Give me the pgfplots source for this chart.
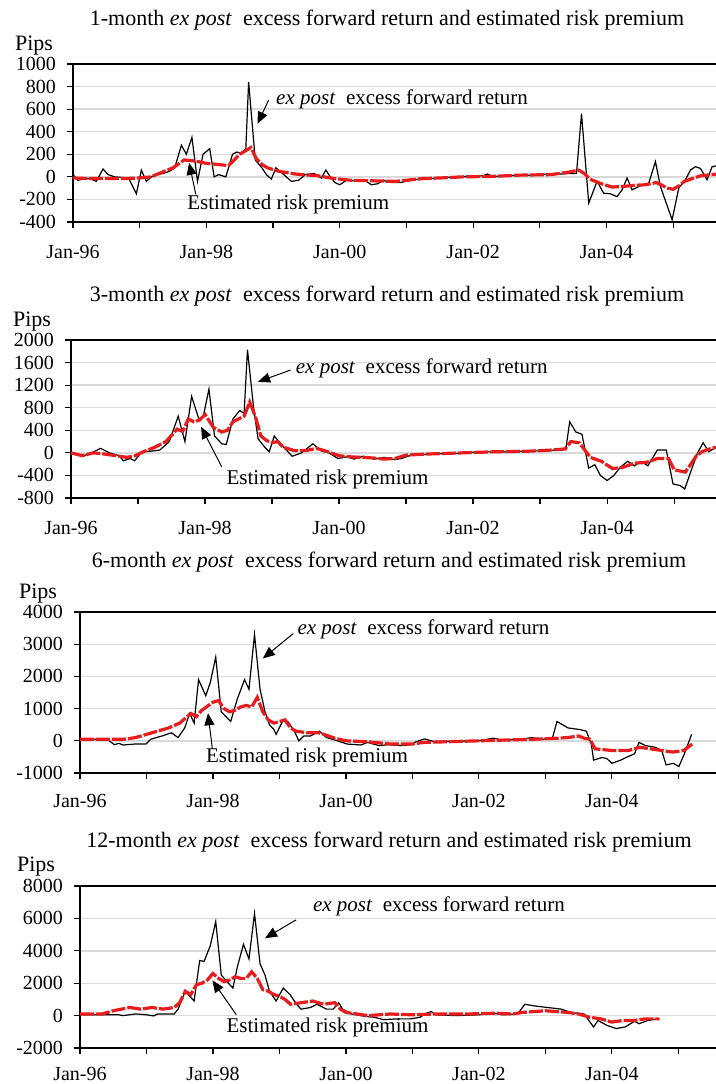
\documentclass[border=0pt]{standalone}
\usepackage{fontspec}
\setmainfont{Liberation Serif}
\usepackage{pgfplots}
\pgfplotsset{compat=1.18}
\usetikzlibrary{arrows.meta}

\definecolor{rp}{RGB}{232,28,28}

\pgfplotsset{
  panel/.style={
    scale only axis, anchor=south west,
    xmin=0,
    axis y line*=left, axis x line*=box,
    xtick={0,12,...,108},
    xticklabels={Jan-96,,Jan-98,,Jan-00,,Jan-02,,Jan-04,},
    xtick pos=left, ytick pos=left, tick align=outside,
    major tick length=3pt,
    every tick/.style={black, line width=0.6pt},
    axis line style={line width=0.9pt},
    ymajorgrids, grid style={gray!30, line width=0.7pt},
    tick label style={font=\fontsize{10}{12}\selectfont},
    yticklabel style={xshift=-2pt},
  },
  xpost/.style={black, line width=0.6pt, no marks},
  risk/.style={rp, line width=1.6pt, no marks, dash pattern=on 7pt off 1pt},
}
\tikzset{
  ann/.style={font=\fontsize{10.5}{12}\selectfont, inner sep=0pt},
  arr/.style={-{Triangle[length=6pt,width=5pt]}, line width=0.5pt, black},
  ttl/.style={font=\fontsize{11}{13}\selectfont, inner sep=0pt},
}

\begin{document}
\begin{tikzpicture}

% ---------- 1-month ----------
\begin{axis}[panel, at={(36.5pt,-111pt)}, width=321.5pt, height=79pt,
  xmax=115.7, ymin=-400, ymax=1000,
  ytick={-400,-200,...,1000},
  yticklabels={-400,-200,0,200,400,600,800,1000},
  xticklabel style={yshift=-5pt}]
\addplot[xpost] table {
0 20
0.9 -30
1.8 -20
3 -15
4.2 -40
5.4 70
6.3 20
7.5 0
10 -10
11.4 -150
12.3 60
13.2 -40
14.1 0
15 20
16.2 30
17.4 50
18.3 80
19.5 280
20.4 200
21.4 350
22.4 -40
23.4 200
24.6 250
25.4 0
26.2 20
27.5 0
28.7 200
29.5 220
30.3 210
31.1 250
31.6 840
32.8 150
34 80
34.8 20
35.7 -20
36.5 80
37.7 30
39.3 -40
40.6 -30
41.8 20
43.4 30
44.7 -10
45.5 60
46.3 0
47.1 -50
48 -70
49.2 -30
51.6 -40
52.5 -30
53.7 -70
54.9 -60
55.7 -30
57.4 -50
59 -50
60.7 -30
62.3 -20
64.8 -15
67.2 -5
69.7 0
72.1 5
73.8 10
74.6 25
75.4 5
78.7 10
81.1 20
82 15
85.2 25
87.7 25
89.3 30
90.6 30
91.5 560
92.8 -232
94.3 -40
95.5 -145
96.7 -150
97.9 -175
98.8 -115
99.7 -10
100.6 -115
101.8 -85
103.6 -55
104.8 135
105.7 -85
107.8 -380
109 -100
110.2 -25
111.1 60
112 90
112.9 75
114.1 -25
115 90
116 100
};
\addplot[risk] table {
0 -10
3 -15
6 -15
9 -15
12 -10
14 0
16 40
18 80
20 150
22 140
24 120
26 110
28 100
29 150
30 200
31 230
32 260
33 160
34 110
35 80
37 50
40 25
44 10
47 -15
50 -30
54 -35
58 -40
60 -30
63 -15
66 -10
70 0
76 5
80 15
86 20
89 40
91 60
92 30
93 -20
95 -60
97 -90
99 -85
101 -75
103 -70
105 -50
107 -100
108 -110
109 -80
110 -40
112 -5
113 10
115 20
116 25
};
\node[ann, anchor=west] at (axis cs:36.5,690) {\textit{ex post}\ \ excess forward return};
\draw[arr] (axis cs:35.2,680) -- (axis cs:33.2,470);
\node[ann, anchor=west] at (axis cs:20.5,-244) {Estimated risk premium};
\draw[arr] (axis cs:22.1,-156) -- (axis cs:20.9,124);
\end{axis}

% ---------- 3-month ----------
\begin{axis}[panel, at={(35.5pt,-249pt)}, width=322.5pt, height=79pt,
  xmax=115.5, ymin=-800, ymax=2000,
  ytick={-800,-400,...,2000},
  yticklabels={-800,-400,0,400,800,1200,1600,2000},
  xticklabel style={yshift=-5pt}]
\addplot[xpost] table {
0 0
0.8 -20
2 -60
3.7 0
5.3 80
6.9 0
8.6 -50
9.4 -140
10.6 -100
11.4 -140
12.7 20
14.3 30
15.9 50
17.6 200
19.2 650
20.4 200
21.6 1000
22.9 600
23.7 650
24.7 1130
25.7 300
27 160
27.8 150
29 600
30.2 750
31 700
31.6 1830
32.7 800
33.5 250
34.7 100
35.5 20
36.4 300
37.6 150
39.6 -60
41.3 0
43.3 160
44.9 30
46.2 0
47.8 -100
49.4 -70
50.7 -110
52.3 -60
54.3 -110
56 -80
58 -120
59.2 -100
60.9 -40
65 -20
69 -10
73.1 20
77.2 15
81.3 30
85.4 40
88.6 60
89.3 550
90.4 370
91.5 330
92.7 -270
93.8 -210
94.8 -400
96 -490
97.2 -400
98.4 -250
99.7 -150
100.9 -230
102.1 -150
103.3 -230
105 50
106.6 50
107.8 -550
109.1 -580
109.9 -640
111.1 -300
112.2 0
113.2 180
114.2 20
115.2 80
};
\addplot[risk] table {
0 0
2 -50
4 0
6 -20
8 -50
10 -80
11.5 -50
13 20
15 100
17 200
19 420
20 380
21 600
22 550
23 580
24 680
25.5 450
27 370
28 400
29 550
30 600
31 650
32 900
33 650
34 300
35 220
36 180
37 200
38 100
40 40
42 40
44 80
46 20
48 -50
50 -70
52 -80
54 -90
56 -110
58 -100
60 -40
64 -20
70 0
76 20
82 30
86 50
88.5 70
89.5 200
91 180
93 -80
95 -150
97 -280
99 -250
101 -180
103 -170
105 -100
107 -100
108 -300
110 -340
111 -200
112 -50
113 20
114 60
115.5 100
};
\node[ann, anchor=west] at (axis cs:40.2,1497) {\textit{ex post}\ \ excess forward return};
\draw[arr] (axis cs:39.3,1467) -- (axis cs:33.5,1260);
\node[ann, anchor=west] at (axis cs:27.8,-473) {Estimated risk premium};
\draw[arr] (axis cs:27,-249) -- (axis cs:23.3,462);
\end{axis}

% ---------- 6-month ----------
\begin{axis}[panel, at={(40pt,-386.5pt)}, width=318pt, height=80.5pt,
  xmax=114.8, ymin=-1000, ymax=4000,
  ytick={-1000,0,...,4000},
  yticklabels={-1000,0,1000,2000,3000,4000},
  xticklabel style={yshift=-4pt}]
\addplot[xpost] table {
0 50
4.9 50
6.2 -120
7 -80
7.8 -130
9.9 -100
11.9 -100
12.8 50
14.8 150
16.5 250
17.7 100
18.9 400
19.8 850
20.6 550
21.4 1900
22.7 1400
23.5 1800
24.5 2600
25.5 900
27.2 600
28.4 1300
29.7 1900
30.5 1600
31.5 3300
32.5 1600
33.4 900
34.2 500
35 350
35.4 200
36.7 650
37.5 600
38.7 300
39.5 0
40.4 150
41.6 150
43.2 300
44.5 100
46.5 0
48.2 -100
50.7 -130
51.9 -50
54 -150
55.6 -120
58.1 -150
59.7 -120
60.5 -40
62.2 60
63.8 -20
68 -10
72.1 0
74.5 80
76.2 30
79.5 40
81.5 100
83.6 50
85.3 100
86.1 600
88.1 400
90.2 350
91.4 300
92.3 -100
92.7 -600
94.2 -520
95.1 -550
96 -700
97.6 -600
98.8 -500
100.1 -400
100.9 -50
102.1 -150
103.8 -200
105 -300
105.8 -750
107.1 -700
108.1 -800
109.1 -400
110.4 200
};
\addplot[risk] table {
0 50
8 50
10 100
13 250
16 400
18 550
19 700
20 850
21 750
22 950
24 1200
25 1250
26 1000
27 900
28 950
29 1050
30 1100
31 1050
32 1350
33 900
34 650
35 550
36 600
37 650
38 400
39 300
41 250
43 250
44 200
46 80
48 0
52 -30
56 -100
60 -100
62 -50
68 -20
76 20
82 50
86 80
88 100
90 150
91 80
92 50
93 -250
96 -300
99 -300
101 -200
103 -250
105 -300
107 -350
109 -300
110.5 -100
};
\node[ann, anchor=west] at (axis cs:39.2,3454) {\textit{ex post}\ \ excess forward return};
\draw[arr] (axis cs:38.5,3330) -- (axis cs:33,2557);
\node[ann, anchor=west] at (axis cs:22.7,-505) {Estimated risk premium};
\draw[arr] (axis cs:23.9,-258) -- (axis cs:23.1,856);
\end{axis}

% ---------- 12-month ----------
\begin{axis}[panel, at={(40pt,-524pt)}, width=318pt, height=81pt,
  xmax=114.8, ymin=-2000, ymax=8000,
  ytick={-2000,0,...,8000},
  yticklabels={-2000,0,2000,4000,6000,8000},
  xticklabel style={yshift=-3pt}]
\addplot[xpost] table {
0 50
7 50
7.8 0
9.9 100
10.3 100
12 50
13.3 -20
14 100
17 100
17.7 400
19 1500
20.6 900
21.6 3400
22.4 3350
23.5 4300
24.5 5800
25.5 2500
26.8 2000
27.6 1700
28.4 3000
29.5 4400
30.5 3500
31.5 6300
32.5 3200
33.4 2500
34.2 1500
35.4 900
36.7 1700
37.9 1300
39.1 700
39.9 400
41.6 500
42.8 700
44.5 400
45.7 400
46.7 800
47.4 400
49 100
51.5 -50
53.1 -100
54.8 -250
57.3 -200
59.7 -200
61.4 -100
62.2 100
63.4 250
64.2 50
68 0
72 50
74.5 150
76.2 50
79 100
80.3 700
82 600
84.4 500
86.9 400
88.5 200
91 100
92.7 -700
93.5 -300
95.1 -600
96.8 -800
98.4 -700
100.1 -350
100.9 -500
102.5 -300
104.2 -200
104.6 -250
};
\addplot[risk] table {
0 100
4 100
6 300
9 500
11 400
13 500
15 400
17 500
18 800
19 1500
20 1300
21 1900
22 2000
23 2200
24 2600
25 2300
26 2100
27 2200
28 2400
29 2300
30 2300
31 2700
32 2300
33 1600
34 1500
35 1300
36 1200
37 1000
38 700
40 800
42 900
44 700
46 800
47 400
48 200
50 100
52 0
54 50
56 100
60 50
64 100
70 100
75 150
78 100
80 200
84 300
88 200
90 100
92 -100
94 -200
96 -400
98 -300
100 -300
102 -200
104.6 -200
};
\node[ann, anchor=west] at (axis cs:42,6728) {\textit{ex post}\ \ excess forward return};
\draw[arr] (axis cs:39,5908) -- (axis cs:33.4,4780);
\node[ann, anchor=west] at (axis cs:26.4,-759) {Estimated risk premium};
\draw[arr] (axis cs:28.2,62) -- (axis cs:23.9,2174);
\end{axis}

% titles and unit labels
\node[ttl] at (193.5pt,-10pt) {1-month \textit{ex post}\ \ excess forward return and estimated risk premium};
\node[ttl] at (193.5pt,-148pt) {3-month \textit{ex post}\ \ excess forward return and estimated risk premium};
\node[ttl] at (194.5pt,-281pt) {6-month \textit{ex post}\ \ excess forward return and estimated risk premium};
\node[ttl] at (194.5pt,-421pt) {12-month \textit{ex post}\ \ excess forward return and estimated risk premium};
\node[ttl] at (17pt,-23pt) {Pips};
\node[ttl] at (16pt,-161pt) {Pips};
\node[ttl] at (19pt,-297pt) {Pips};
\node[ttl] at (18pt,-433.5pt) {Pips};

\pgfresetboundingbox
\useasboundingbox (0,0) rectangle (358pt,-542pt);
\end{tikzpicture}
\end{document}
